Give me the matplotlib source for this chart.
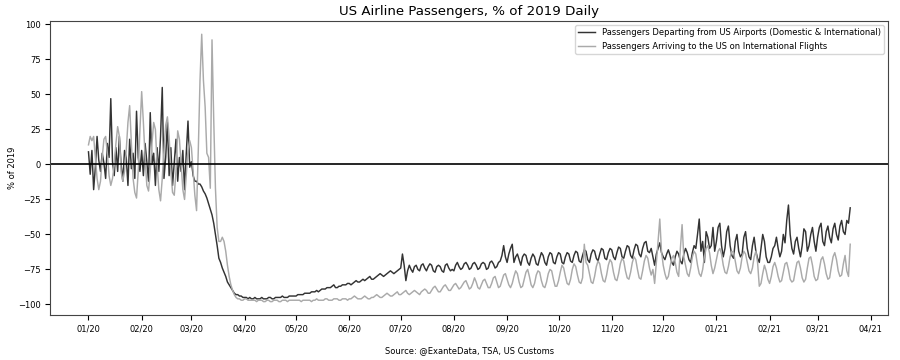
import matplotlib
matplotlib.use("Agg")
import matplotlib.pyplot as plt
import matplotlib.dates as mdates
import numpy as np
import pandas as pd

# daily % of 2019
# departures (TSA, domestic & international)
dep_jan20 = [9, -7, 10, -18, -2, 20, 3, -5, 8, 1, -10, 15, 5, 47, 2, -8, 12, -5, 20, 0,
             -12, 10, 5, -15, 18, -3, 8, -10, 38, 5, -5]
dep_feb20 = [10, -8, 15, 2, -12, 37, 0, 8, -15, 12, -5, 20, 55, -10, 5, 30, -8, 12, -15, 2,
             18, -12, 5, -5, 10, -18, 8, 31, -2]
dep_mar20 = [2, -8, -12, -12, -14, -14, -16, -19, -21, -24, -28, -32, -36, -42, -50, -58, -67, -70,
             -74, -77, -80, -84, -86, -88, -90, -92, -93, -93, -94, -94, -95]
dep_apr20 = [-95, -95, -96, -95, -96, -96, -95, -96, -96, -96, -95, -96, -96, -96, -95, -95, -96,
             -96, -95, -95, -95, -95, -94, -95, -95, -95, -94, -94, -94, -94]
dep_may20 = [-94, -93, -93, -93, -93, -92, -92, -92, -92, -91, -91, -91, -90, -91, -90, -89, -89,
             -89, -88, -88, -88, -87, -86, -88, -88, -87, -87, -86, -86, -86, -85]
dep_jun20 = [-85, -86, -85, -84, -83, -84, -84, -83, -82, -83, -82, -81, -80, -82, -82, -81, -80,
             -79, -78, -79, -80, -79, -78, -77, -76, -77, -78, -77, -76, -75]
dep_jul20 = [-74, -64, -72, -83, -76, -72, -75, -77, -73, -72, -75, -76, -72, -71, -74, -76, -73,
             -71, -72, -76, -77, -73, -72, -73, -76, -77, -72, -71, -74, -76, -75]
dep_aug20 = [-76, -72, -70, -73, -75, -74, -71, -70, -72, -75, -74, -71, -70, -72, -75, -74, -71,
             -70, -71, -75, -74, -70, -69, -71, -74, -73, -70, -69, -65, -58, -66]
dep_sep20 = [-70, -64, -60, -57, -70, -66, -64, -68, -72, -66, -64, -65, -70, -72, -67, -64, -66,
             -71, -72, -67, -63, -65, -70, -72, -66, -63, -64, -70, -71, -66]
dep_oct20 = [-63, -64, -70, -71, -66, -63, -64, -69, -70, -65, -62, -63, -69, -70, -65, -61, -62,
             -68, -70, -64, -61, -62, -67, -69, -64, -60, -61, -67, -68, -63, -60]
dep_nov20 = [-61, -66, -68, -63, -59, -60, -66, -67, -62, -58, -59, -65, -67, -61, -57, -58, -64,
             -66, -60, -56, -55, -62, -63, -60, -66, -72, -64, -60, -56, -63]
dep_dec20 = [-66, -68, -64, -61, -65, -70, -72, -66, -62, -64, -69, -71, -64, -60, -63, -68, -70,
             -63, -58, -60, -50, -39, -62, -55, -70, -48, -52, -60, -58, -45, -62]
dep_jan21 = [-55, -45, -42, -58, -66, -60, -48, -44, -58, -65, -67, -55, -50, -62, -66, -64, -52,
             -48, -60, -66, -68, -58, -52, -62, -67, -70, -60, -50, -55, -66, -70]
dep_feb21 = [-70, -66, -60, -58, -52, -60, -66, -62, -50, -56, -40, -29, -50, -60, -64, -55, -52,
             -60, -66, -58, -46, -48, -62, -58, -50, -45, -55, -62]
dep_mar21 = [-52, -45, -42, -55, -58, -48, -44, -52, -56, -46, -42, -50, -54, -44, -40, -48, -50,
             -40, -42, -31]

# arrivals on international flights (US Customs)
arr_jan20 = [14, 20, 17, 20, 5, -10, -18, -12, 5, 18, 20, 8, -8, -15, -10, 0, 15, 27, 20, -5,
             -12, -5, 10, 30, 42, 15, -10, -20, -24, -5, 25]
arr_feb20 = [52, 30, 5, -15, -19, -5, 15, 30, 25, 0, -18, -26, -10, 10, 28, 34, 20, -5, -20, -22,
             -5, 24, 18, 0, -18, -25, -8, 10, 17]
arr_mar20 = [12, -5, -22, -33, 10, 60, 93, 60, 41, 8, 5, -17, 89, 32, -17, -45, -55, -55, -52, -55,
             -62, -72, -80, -86, -90, -93, -95, -96, -96, -97, -97]
arr_apr20 = [-96, -96, -97, -97, -97, -97, -97, -98, -97, -97, -97, -98, -98, -97, -97, -98, -98,
             -97, -97, -97, -98, -98, -97, -97, -97, -98, -97, -97, -97, -97]
arr_may20 = [-97, -97, -97, -98, -97, -97, -97, -97, -97, -98, -97, -97, -96, -97, -97, -97, -97,
             -96, -96, -97, -97, -97, -96, -96, -96, -97, -97, -96, -96, -96, -97]
arr_jun20 = [-96, -96, -95, -94, -95, -96, -96, -96, -95, -94, -95, -96, -96, -95, -95, -94, -93,
             -94, -95, -95, -94, -93, -92, -93, -94, -94, -93, -92, -91, -93]
arr_jul20 = [-93, -92, -91, -90, -92, -93, -92, -91, -90, -91, -92, -93, -91, -90, -89, -90, -92,
             -92, -90, -88, -87, -89, -91, -91, -89, -87, -86, -88, -90, -90, -88]
arr_aug20 = [-86, -85, -87, -89, -88, -86, -84, -83, -86, -89, -88, -85, -81, -84, -88, -89, -86,
             -83, -82, -85, -88, -88, -85, -81, -80, -84, -88, -87, -83, -79, -78]
arr_sep20 = [-82, -86, -88, -85, -80, -76, -78, -84, -88, -87, -82, -77, -75, -80, -86, -88, -85,
             -79, -76, -77, -83, -87, -88, -84, -78, -75, -76, -82, -87, -87]
arr_oct20 = [-83, -77, -72, -74, -80, -85, -86, -82, -75, -71, -73, -79, -84, -85, -81, -57, -70,
             -72, -78, -84, -85, -80, -73, -69, -71, -78, -83, -84, -79, -72, -68]
arr_nov20 = [-70, -77, -82, -83, -78, -71, -67, -69, -76, -81, -82, -77, -70, -66, -68, -75, -81,
             -82, -76, -69, -65, -67, -74, -79, -75, -85, -70, -55, -39, -62]
arr_dec20 = [-72, -78, -82, -80, -73, -67, -65, -70, -77, -80, -60, -43, -66, -72, -78, -80, -74,
             -66, -62, -64, -72, -78, -80, -75, -66, -60, -58, -63, -72, -78, -74]
arr_jan21 = [-68, -62, -60, -64, -72, -77, -78, -73, -66, -62, -63, -69, -76, -78, -74, -66, -62,
             -64, -70, -76, -78, -74, -66, -62, -70, -87, -85, -78, -72, -76, -82]
arr_feb21 = [-85, -80, -73, -70, -74, -80, -84, -83, -77, -71, -70, -75, -82, -84, -83, -76, -70,
             -69, -74, -81, -84, -82, -74, -67, -66, -72, -80, -83]
arr_mar21 = [-82, -75, -68, -66, -71, -78, -82, -81, -73, -66, -63, -68, -76, -80, -79, -71, -65,
             -76, -80, -57]

dep = np.concatenate([dep_jan20, dep_feb20, dep_mar20, dep_apr20, dep_may20, dep_jun20, dep_jul20,
                      dep_aug20, dep_sep20, dep_oct20, dep_nov20, dep_dec20, dep_jan21, dep_feb21,
                      dep_mar21])
arr = np.concatenate([arr_jan20, arr_feb20, arr_mar20, arr_apr20, arr_may20, arr_jun20, arr_jul20,
                      arr_aug20, arr_sep20, arr_oct20, arr_nov20, arr_dec20, arr_jan21, arr_feb21,
                      arr_mar21])
dep_dates = pd.date_range("2020-01-01", periods=len(dep), freq="D")
arr_dates = pd.date_range("2020-01-01", periods=len(arr), freq="D")

plt.rcParams["font.family"] = "DejaVu Sans"
plt.rcParams["font.size"] = 6.0

fig = plt.figure(figsize=(9, 3.6), dpi=100)
ax = fig.add_axes([0.056, 0.125, 0.931, 0.817])

ax.plot(dep_dates, dep, color="#333333", lw=1.05,
        label="Passengers Departing from US Airports (Domestic & International)")
ax.plot(arr_dates, arr, color="#aaaaaa", lw=1.05,
        label="Passengers Arriving to the US on International Flights")
ax.axhline(0, color="black", lw=1.2)

ax.set_yticks(np.arange(-100, 101, 25))
ax.xaxis.set_major_locator(mdates.MonthLocator())
ax.xaxis.set_major_formatter(mdates.DateFormatter("%m/%y"))
for s in ax.spines.values():
    s.set_color("#444444")

ax.set_title("US Airline Passengers, % of 2019 Daily", fontsize=9.6, pad=4)
ax.set_ylabel("% of 2019", labelpad=1)
ax.set_xlabel("Source: @ExanteData, TSA, US Customs", labelpad=9)
ax.legend(loc="upper right")

fig.savefig("out.png", dpi=100)
